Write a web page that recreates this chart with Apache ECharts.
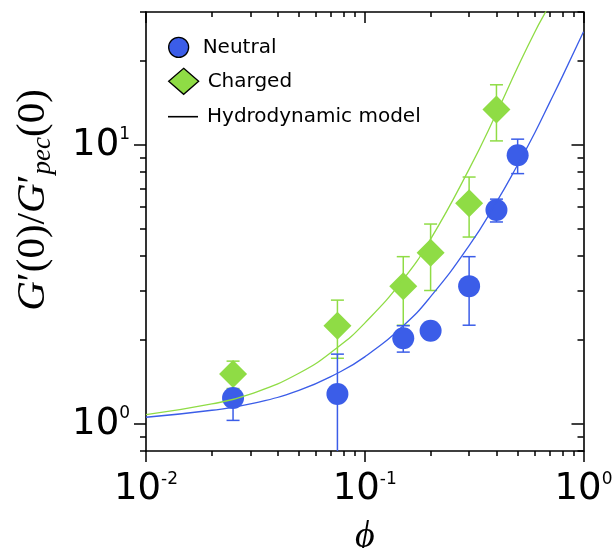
<!DOCTYPE html>
<html>
<head>
<meta charset="utf-8">
<script src="https://cdn.jsdelivr.net/npm/echarts@6/dist/echarts.min.js"></script>
<style>
  html, body { margin: 0; padding: 0; background: #fff; }
  #chart { width: 616px; height: 548px; }
</style>
</head>
<body>
<div id="chart"></div>
<script>
// Volume fraction and normalised modulus, neutral particles
const phiNeutral = [0.025, 0.075, 0.15, 0.2, 0.3, 0.4, 0.5];
const gNeutral = [1.24, 1.28, 2.03, 2.16, 3.12, 5.85, 9.2];
const errNeutral = [0.21, 0.50, 0.22, 0.10, 0.86, 0.55, 1.3];

// Charged particles
const phiCharged = [0.025, 0.075, 0.15, 0.2, 0.3, 0.4];
const gCharged = [1.51, 2.25, 3.12, 4.11, 6.18, 13.4];
const errCharged = [0.17, 0.53, 0.86, 1.1, 1.5, 3.05];

// Hydrodynamic model curves
const phiModel = [0.01, 0.02, 0.03, 0.05, 0.075, 0.1, 0.15, 0.2, 0.3, 0.4, 0.5, 0.6, 0.7, 0.8, 1.0];
const modelNeutral = [1.057, 1.12, 1.18, 1.32, 1.52, 1.74, 2.25, 2.86, 4.36, 6.24, 8.5, 11.1, 14.2, 17.6, 25.5];
const modelCharged = [1.08, 1.18, 1.28, 1.52, 1.88, 2.3, 3.3, 4.6, 8.2, 13.0, 19.0, 25.5, 32.0, 40.0, 60.0];

// Tick positions
const xMajor = [0.01, 0.1, 1];
const xMinor = [0.02, 0.03, 0.04, 0.05, 0.06, 0.07, 0.08, 0.09, 0.2, 0.3, 0.4, 0.5, 0.6, 0.7, 0.8, 0.9];
const yMajor = [1, 10];
const yMinor = [0.8, 0.9, 2, 3, 4, 5, 6, 7, 8, 9, 20, 30];

const BLUE = '#3b5de8';
const GREEN = '#8fdc45';
const AXIS = '#000';

const pairs = (xs, ys) => xs.map((x, i) => [x, ys[i]]);
const bars = (xs, ys, es) => xs.map((x, i) => [x, ys[i] - es[i], ys[i] + es[i]]);

const powLabel = v => '{b|10}{s|' + Math.round(Math.log10(v)) + '}';
const labelRich = {
  b: { fontSize: 37, fontFamily: 'DejaVu Sans', color: '#000' },
  s: { fontSize: 17, fontFamily: 'DejaVu Sans', color: '#000', verticalAlign: 'top' }
};

function makeAxis(kind, position, ticks, len, inside, lineShown, labels) {
  const ax = {
    type: 'log',
    logBase: 10,
    position: position,
    min: kind === 'x' ? 0.01 : 0.8,
    max: kind === 'x' ? 1 : 30,
    gridIndex: 0,
    axisLine: { show: lineShown, onZero: false, lineStyle: { color: AXIS, width: 1.6 } },
    axisTick: { show: true, inside: inside, length: len, customValues: ticks,
      lineStyle: { color: AXIS, width: 1.5 } },
    axisLabel: { show: false },
    splitLine: { show: false },
    minorTick: { show: false },
    silent: true
  };
  if (labels) {
    ax.axisLabel = {
      show: true, customValues: ticks, formatter: powLabel, rich: labelRich,
      margin: kind === 'x' ? 20 : 16
    };
  }
  return ax;
}

const xAxes = [
  makeAxis('x', 'bottom', xMajor, 11, false, true, true),
  makeAxis('x', 'bottom', xMinor, 5, false, false, false),
  makeAxis('x', 'top', xMajor, 11, true, true, false),
  makeAxis('x', 'top', xMinor, 5, true, false, false)
];
const yAxes = [
  makeAxis('y', 'left', yMajor, 12, false, true, true),
  makeAxis('y', 'left', yMinor, 6, false, false, false),
  makeAxis('y', 'right', yMajor, 12, true, true, false),
  makeAxis('y', 'right', yMinor, 6, true, false, false)
];

xAxes[0].name = '\u03d5';
xAxes[0].nameLocation = 'middle';
xAxes[0].nameGap = 67;
xAxes[0].nameTextStyle = { fontFamily: 'Liberation Serif', fontStyle: 'italic', fontSize: 38, color: '#000' };

yAxes[0].name = '{i|G}{n|\u2032(0)/}{i|G}{n|\u2032}{sub|pec}{n|(0)}';
yAxes[0].nameLocation = 'middle';
yAxes[0].nameRotate = 90;
yAxes[0].nameGap = 90;
yAxes[0].nameTextStyle = {
  padding: [0, 0, 0, 63],
  rich: {
    i: { fontFamily: 'Liberation Serif', fontStyle: 'italic', fontSize: 41, color: '#000', lineHeight: 42 },
    n: { fontFamily: 'Liberation Serif', fontSize: 41, color: '#000', lineHeight: 42 },
    sub: { fontFamily: 'Liberation Serif', fontStyle: 'italic', fontSize: 27, color: '#000', padding: [19, 0, 0, 0] }
  }
};

function errorBars(color) {
  return function (params, api) {
    const x = api.value(0);
    const hi = api.coord([x, api.value(2)]);
    const lo = api.coord([x, api.value(1)]);
    const half = 6.5;
    const style = { stroke: color, lineWidth: 1.5, fill: null };
    return {
      type: 'group',
      children: [
        { type: 'line', shape: { x1: hi[0], y1: hi[1], x2: lo[0], y2: lo[1] }, style: style },
        { type: 'line', shape: { x1: hi[0] - half, y1: hi[1], x2: hi[0] + half, y2: hi[1] }, style: style },
        { type: 'line', shape: { x1: lo[0] - half, y1: lo[1], x2: lo[0] + half, y2: lo[1] }, style: style }
      ]
    };
  };
}

const legendBase = {
  orient: 'vertical', left: 168, padding: 0, itemWidth: 30, selectedMode: false,
  textStyle: { fontSize: 20, fontFamily: 'DejaVu Sans', color: '#000', padding: [0, 0, 0, 4] }
};

const option = {
  animation: false,
  backgroundColor: '#fff',
  grid: { left: 146, top: 12, right: 32.5, bottom: 97, containLabel: false, outerBoundsMode: 'none' },
  legend: [
    Object.assign({}, legendBase, {
      top: 36.7, itemHeight: 20,
      data: [{ name: 'Neutral', icon: 'circle',
        itemStyle: { color: BLUE, borderColor: '#000', borderWidth: 1.3 } }]
    }),
    Object.assign({}, legendBase, {
      top: 67.7, itemHeight: 26,
      data: [{ name: 'Charged', icon: 'diamond',
        itemStyle: { color: GREEN, borderColor: '#000', borderWidth: 1.3 } }]
    }),
    Object.assign({}, legendBase, {
      top: 106.7, itemHeight: 10,
      data: [{ name: 'Hydrodynamic model', icon: 'path://M0,0L30,0L30,1.6L0,1.6Z',
        itemStyle: { color: '#000', borderWidth: 0 } }]
    })
  ],
  xAxis: xAxes,
  yAxis: yAxes,
  series: [
    {
      name: 'Hydrodynamic model', type: 'line', data: pairs(phiModel, modelNeutral),
      smooth: true, showSymbol: false, symbol: 'none', clip: true,
      lineStyle: { color: BLUE, width: 1.3 }, itemStyle: { color: BLUE }
    },
    {
      name: 'Hydrodynamic model', type: 'line', data: pairs(phiModel, modelCharged),
      smooth: true, showSymbol: false, symbol: 'none', clip: true,
      lineStyle: { color: GREEN, width: 1.3 }, itemStyle: { color: GREEN }
    },
    {
      name: 'Charged', type: 'custom', renderItem: errorBars(GREEN), clip: true,
      encode: { x: 0, y: [1, 2] }, data: bars(phiCharged, gCharged, errCharged)
    },
    {
      name: 'Charged', type: 'scatter', symbol: 'diamond', symbolSize: 28,
      itemStyle: { color: GREEN, opacity: 1 }, data: pairs(phiCharged, gCharged)
    },
    {
      name: 'Neutral', type: 'custom', renderItem: errorBars(BLUE), clip: true,
      encode: { x: 0, y: [1, 2] }, data: bars(phiNeutral, gNeutral, errNeutral)
    },
    {
      name: 'Neutral', type: 'scatter', symbol: 'circle', symbolSize: 22,
      itemStyle: { color: BLUE, opacity: 1 }, data: pairs(phiNeutral, gNeutral)
    }
  ]
};

const chart = echarts.init(document.getElementById('chart'), null, { renderer: 'canvas' });
chart.setOption(option);
</script>
</body>
</html>
